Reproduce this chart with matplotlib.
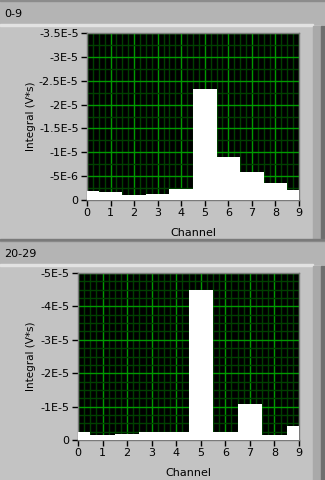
import numpy as np
import matplotlib
matplotlib.use("Agg")
import matplotlib.pyplot as plt
from matplotlib.patches import Rectangle
from matplotlib.ticker import FixedLocator, FixedFormatter, MultipleLocator

plt.rcParams['font.family'] = ['DejaVu Sans']

channels = np.arange(10)
# integral per channel (V*s)
top_vals = np.array([-1.9e-6, -1.7e-6, -1.1e-6, -1.3e-6, -2.35e-6,
                     -2.33e-5, -9.0e-6, -5.85e-6, -3.6e-6, -2.1e-6])
bot_vals = np.array([-2.4e-6, -1.5e-6, -1.8e-6, -2.4e-6, -2.4e-6,
                     -4.5e-5, -2.4e-6, -1.08e-5, -1.5e-6, -4.2e-6])

top_title = "0-9"
bot_title = "20-29"
top_yticks = [0, -5e-6, -1e-5, -1.5e-5, -2e-5, -2.5e-5, -3e-5, -3.5e-5]
top_ylabels = ["0", "-5E-6", "-1E-5", "-1.5E-5", "-2E-5", "-2.5E-5", "-3E-5", "-3.5E-5"]
bot_yticks = [0, -1e-5, -2e-5, -3e-5, -4e-5, -5e-5]
bot_ylabels = ["0", "-1E-5", "-2E-5", "-3E-5", "-4E-5", "-5E-5"]

W, H = 325, 480
fs = 8
fig = plt.figure(figsize=(W / 100, H / 100), dpi=100)
fig.patch.set_facecolor("#c3c3c3")


def px(x0, y0, w, h):
    # pixel box (top-left origin) -> figure fraction
    return [x0 / W, 1 - (y0 + h) / H, w / W, h / H]


def panel(y0, title):
    # header bar
    fig.patches.append(Rectangle((0, 1 - (y0 + 24) / H), 1, 24 / H,
                                 transform=fig.transFigure, color="#b4b4b4", zorder=0))
    fig.patches.append(Rectangle((0, 1 - (y0 + 1) / H), 1, 1 / H,
                                 transform=fig.transFigure, color="#8c8c8c", zorder=0))
    fig.patches.append(Rectangle((0, 1 - (y0 + 26) / H), 313 / W, 2 / H,
                                 transform=fig.transFigure, color="#e2e2e2", zorder=0))
    # right side shading strip
    fig.patches.append(Rectangle((313 / W, 1 - (y0 + 240) / H), 9 / W, 214 / H,
                                 transform=fig.transFigure, color="#a9a9a9", zorder=0))
    fig.patches.append(Rectangle((321 / W, 1 - (y0 + 240) / H), 4 / W, 214 / H,
                                 transform=fig.transFigure, color="#6e6e6e", zorder=0))
    fig.text(4 / W, 1 - (y0 + 14) / H, title, fontsize=fs, va="center", ha="left")


def chart(box, vals, yticks, ylabels, ylim, yminor):
    ax = fig.add_axes(px(*box))
    ax.set_facecolor("black")
    ax.bar(channels, vals, width=1.0, color="white", zorder=3)
    ax.set_xlim(0, 9)
    ax.set_ylim(0, ylim)
    ax.xaxis.set_major_locator(MultipleLocator(1))
    ax.xaxis.set_minor_locator(MultipleLocator(0.25))
    ax.yaxis.set_major_locator(FixedLocator(yticks))
    ax.yaxis.set_major_formatter(FixedFormatter(ylabels))
    ax.yaxis.set_minor_locator(MultipleLocator(yminor))
    ax.grid(which="major", color="#009a00", lw=1, zorder=1)
    ax.grid(which="minor", color="#004000", lw=1, zorder=0.5)
    ax.tick_params(which="major", direction="out", length=4, width=1,
                   labelsize=fs, pad=2, color="black")
    ax.tick_params(which="minor", length=0)
    for s in ax.spines.values():
        s.set_color("#7a7a7a")
        s.set_linewidth(1)
    ax.set_xlabel("Channel", fontsize=fs, labelpad=7)
    ax.set_ylabel("Integral (V*s)", fontsize=7.5)
    return ax


panel(0, top_title)
panel(240, bot_title)
fig.patches.append(Rectangle((0, 1 - 240 / H), 1, 1 / H,
                             transform=fig.transFigure, color="#7a7a7a", zorder=0))

ax1 = chart((87, 33, 212, 167), top_vals, top_yticks, top_ylabels, -3.5e-5, 2.5e-6)
ax2 = chart((78, 273, 221, 167), bot_vals, bot_yticks, bot_ylabels, -5e-5, 2.5e-6)
ax1.yaxis.set_label_coords((36 - 87) / 212, 0.5)
ax2.yaxis.set_label_coords((36 - 78) / 221, 0.5)

fig.savefig("out.png", dpi=100, facecolor=fig.get_facecolor())
